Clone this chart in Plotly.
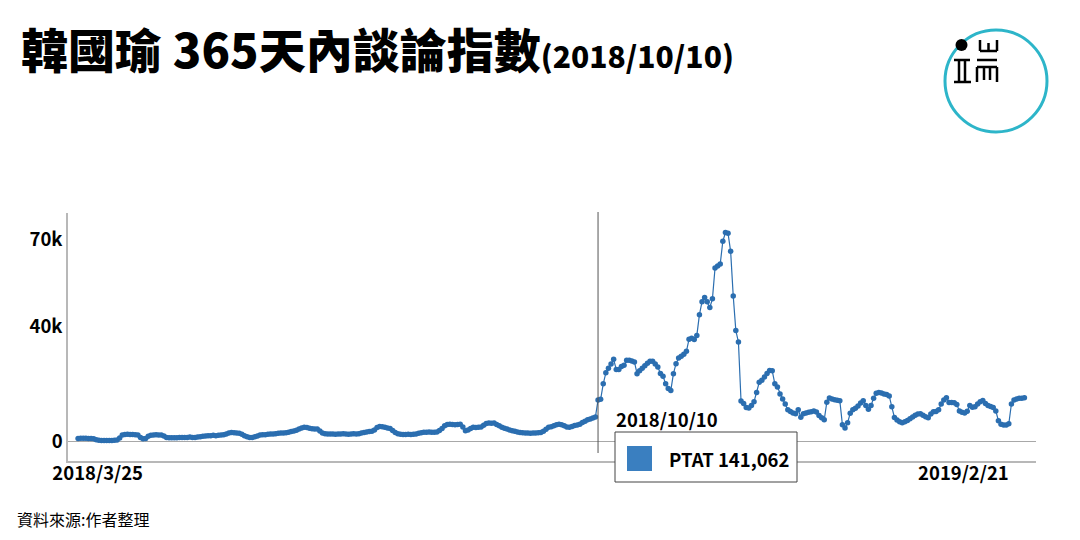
import pandas as pd
import plotly.graph_objects as go

# ---------------- data (values in thousands) ----------------
start_date = "2018-03-24"

values_before_k = [
    1.0, 1.1, 1.1, 1.1, 1.0, 1.0, 0.9,
    0.6, 0.4, 0.3, 0.3, 0.3, 0.3, 0.3, 0.4, 0.5,
    1.2,
    2.2, 2.4, 2.5, 2.4, 2.4, 2.3, 2.2,
    1.4, 0.9, 1.0,
    1.8, 2.1, 2.2, 2.3, 2.2, 2.2, 1.9,
    1.4, 1.3, 1.3, 1.3, 1.3,
    1.4, 1.4, 1.4, 1.4, 1.5, 1.4, 1.4, 1.5, 1.6,
    1.8, 1.9, 2.0, 2.0, 2.1, 2.0, 2.1, 2.2, 2.3,
    2.6, 2.9, 3.1, 3.0, 2.9, 2.8,
    2.5, 2.0, 1.6, 1.4, 1.4,
    1.6, 1.9, 2.2, 2.3, 2.3, 2.5, 2.6, 2.6, 2.7, 2.8, 2.9, 2.9, 3.0,
    3.2, 3.4, 3.6, 3.9, 4.3, 4.7,
    4.9, 4.8, 4.6, 4.4, 4.3, 4.3, 3.6,
    2.9, 2.7, 2.6, 2.6, 2.6, 2.5, 2.6,
    2.6, 2.7, 2.6, 2.5, 2.6, 2.7, 2.6, 2.7, 2.9, 3.1,
    3.3, 3.4, 3.5, 4.0, 4.8,
    5.2, 5.1, 4.9, 4.7, 4.5, 3.8, 3.1,
    2.7, 2.5, 2.4, 2.4, 2.5, 2.4, 2.5, 2.6, 2.8, 3.0,
    3.2, 3.2, 3.3, 3.2, 3.2, 3.3, 3.8, 4.5,
    5.4, 5.9, 6.0, 5.9, 5.8, 5.9, 6.0, 5.0,
    3.7, 4.0, 4.5, 4.9, 4.8, 4.9, 5.0, 5.6,
    6.2, 6.4, 6.3, 6.4, 5.9, 5.4,
    4.9, 4.6, 4.3, 4.0, 3.7, 3.5, 3.3, 3.1, 3.0,
    2.9, 2.9, 2.8, 2.9, 2.9, 3.0, 3.1, 3.5, 4.2,
    4.9, 5.1, 5.4, 5.8, 6.0, 5.8, 5.4, 5.0,
    4.9, 5.2, 5.5, 5.7, 6.0, 6.6, 7.0,
    7.5, 7.8, 8.1, 8.5,
]

values_after_k = [
    14.4, 14.6, 20.0, 23.8, 25.4, 26.9, 28.5, 25.0, 25.0, 26.0,
    26.4, 28.2, 28.2, 27.9, 27.6, 23.5, 24.5, 25.4, 26.3, 27.1,
    27.8, 27.8, 26.9, 25.8, 23.6, 22.6, 20.0, 18.4, 17.7, 23.5,
    27.0, 29.0, 29.6, 30.3, 31.3, 35.5, 35.8, 35.4, 36.8, 44.0,
    48.5, 50.0, 48.5, 46.5, 49.5, 60.2, 60.9, 61.6, 69.5, 72.5,
    72.3, 66.0, 50.5, 38.5, 34.5, 14.0, 13.2, 11.8, 11.6, 12.5,
    13.8, 17.0, 20.5, 21.2, 22.4, 23.6, 24.6, 24.5, 20.0, 18.9,
    16.5, 14.7, 13.0, 11.0, 10.4, 9.9, 9.6, 11.0, 8.4, 9.6,
    9.9, 10.1, 10.3, 10.6, 10.2, 9.0, 8.2, 7.5, 13.6, 15.1,
    14.7, 14.5, 14.3, 14.1, 5.8, 4.7, 6.5, 9.8, 11.0, 11.5,
    12.3, 13.3, 14.1, 12.5, 11.2, 12.5, 15.0, 16.7, 17.0, 16.8,
    16.5, 16.3, 15.8, 12.0, 8.3, 7.4, 6.8, 6.5, 6.8, 7.3,
    7.9, 8.5, 9.1, 9.5, 9.6, 9.1, 8.6, 8.2, 9.5, 10.3,
    10.4, 11.0, 13.0, 14.4, 15.2, 13.5, 13.5, 13.4, 12.8, 10.6,
    10.1, 9.9, 10.5, 12.5, 11.9, 12.0, 13.0, 13.8, 14.2, 13.2,
    12.5, 12.1, 11.8, 10.6, 7.2, 6.0, 5.7, 5.7, 6.1, 13.0,
    14.4, 14.7, 15.0, 15.0, 15.2,
]

values_k = values_before_k + values_after_k
dates = pd.date_range(start_date, periods=len(values_k), freq="D")

y_tick_values = [0, 40, 70]
y_tick_labels = ["0", "40k", "70k"]
x_tick_values = ["2018-03-25", "2019-02-21"]
x_tick_labels = ["2018/3/25", "2019/2/21"]

highlight_date = "2018-10-10"
highlight_label = "2018/10/10"
highlight_text = "PTAT 141,062"

# ---------------- styling ----------------
OFF = 8                       # page body margin in the browser
W, H = 1080 - OFF, 540 - OFF  # figure size
L, R, T, B = 68, 1036, 213, 461   # plot area in screen pixels
FONT = "Noto Sans CJK TC"
BLUE = "#2b6eb0"
LBL = 18.5


def px(x):
    return (x - L) / (R - L)


def py(y):
    return (B - y) / (B - T)


fig = go.Figure()
fig.add_trace(go.Scatter(
    x=dates, y=values_k, mode="lines+markers",
    line=dict(color=BLUE, width=1.2),
    marker=dict(color=BLUE, size=5.5),
    hoverinfo="skip", showlegend=False,
))

shapes = []
shapes.append(dict(type="line", xref="x", yref="paper",
                   x0=highlight_date, x1=highlight_date, y0=py(453), y1=py(212),
                   line=dict(color="#555555", width=1)))
shapes.append(dict(type="rect", xref="paper", yref="paper",
                   x0=px(615), x1=px(797), y0=py(482), y1=py(432),
                   fillcolor="white", line=dict(color="#444444", width=1)))
shapes.append(dict(type="rect", xref="paper", yref="paper",
                   x0=px(627), x1=px(652), y0=py(471), y1=py(446),
                   fillcolor="#3a7fc0", line=dict(width=0)))
shapes.append(dict(type="circle", xref="paper", yref="paper",
                   x0=px(945), x1=px(1047), y0=py(132), y1=py(30),
                   line=dict(color="#2db5c9", width=3)))
shapes.append(dict(type="circle", xref="paper", yref="paper",
                   x0=px(955.5), x1=px(967.5), y0=py(51), y1=py(39),
                   fillcolor="black", line=dict(width=0)))
glyph_segments = [
    (980, 40, 980, 51), (988.5, 43, 988.5, 51), (997, 40, 997, 51), (980, 51, 997, 51),
    (954, 60, 970, 60), (954, 82, 971, 82), (959, 60, 959, 82), (965, 60, 965, 82),
    (977, 60, 997, 60), (977, 67, 997, 67), (977, 67, 977, 82), (997, 67, 997, 82),
    (984, 67, 984, 80), (990, 67, 990, 80),
]
for x0, y0, x1, y1 in glyph_segments:
    shapes.append(dict(type="line", xref="paper", yref="paper",
                       x0=px(x0), x1=px(x1), y0=py(y0), y1=py(y1),
                       line=dict(color="black", width=2.5)))

annotations = [
    dict(xref="paper", yref="paper", x=px(614), y=py(419), xanchor="left", yanchor="middle",
         text=highlight_label, showarrow=False,
         font=dict(family=FONT, size=LBL, color="black", weight="bold")),
    dict(xref="paper", yref="paper", x=px(667), y=py(459), xanchor="left", yanchor="middle",
         text=highlight_text, showarrow=False,
         font=dict(family=FONT, size=LBL, color="black", weight="bold")),
    dict(xref="paper", yref="paper", x=px(15), y=py(519), xanchor="left", yanchor="middle",
         text="資料來源:作者整理", showarrow=False,
         font=dict(family=FONT, size=16, color="black")),
]

fig.update_layout(
    width=W, height=H,
    margin=dict(l=L - OFF, r=W - (R - OFF), t=T - OFF, b=H - (B - OFF), pad=0),
    paper_bgcolor="white", plot_bgcolor="white",
    title=dict(
        text="韓國瑜 365天內談論指數<span style='font-size:30px'>(2018/10/10)</span>",
        xref="container", yref="container", x=(21 - OFF) / W, y=1 - (52 - OFF) / H,
        xanchor="left", yanchor="middle",
        font=dict(family=FONT, size=47, color="black", weight=900),
    ),
    shapes=shapes,
    annotations=annotations,
    xaxis=dict(
        range=["2018-03-20 03:00", "2019-03-27 11:00"],
        tickvals=x_tick_values, ticktext=x_tick_labels,
        ticks="", showgrid=False, zeroline=False,
        showline=True, linecolor="#b8b8b8", linewidth=2,
        tickfont=dict(family=FONT, size=LBL, color="black", weight="bold"),
        ticklabelshift=17, ticklabelstandoff=-5,
    ),
    yaxis=dict(
        range=[-6.8, 79.3],
        tickvals=y_tick_values, ticktext=y_tick_labels,
        ticks="", showgrid=False,
        zeroline=True, zerolinecolor="#a8a8a8", zerolinewidth=1,
        showline=True, linecolor="#b8b8b8", linewidth=1.5,
        tickfont=dict(family=FONT, size=LBL, color="black", weight="bold"),
    ),
)

fig.write_html("out.html")
